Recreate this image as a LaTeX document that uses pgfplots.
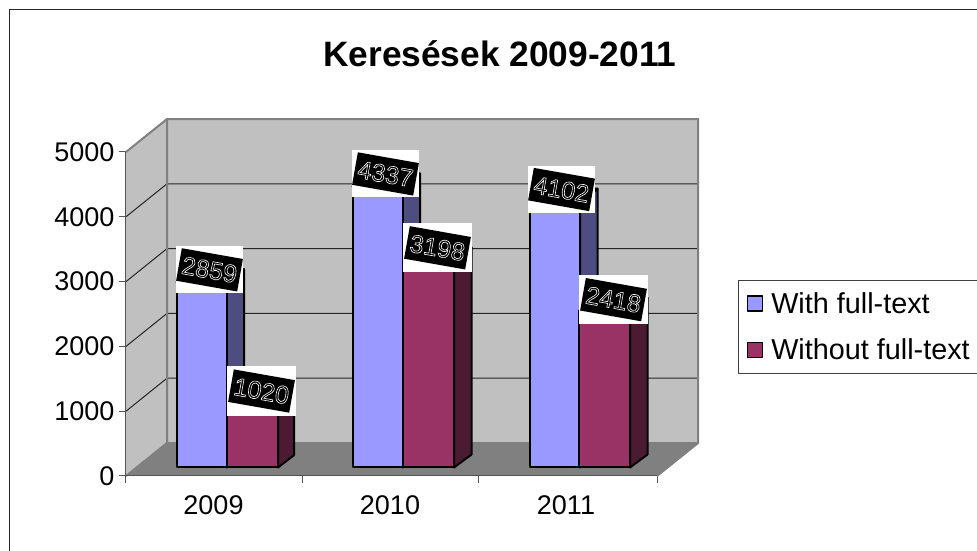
\documentclass[border=0pt]{standalone}
\usepackage{fontspec}
\setmainfont{Liberation Sans}
\usepackage{pgfplots}
\pgfplotsset{compat=1.18}
\definecolor{wall}{HTML}{C0C0C0}
\definecolor{floorc}{HTML}{808080}
\definecolor{edgec}{HTML}{808080}
\definecolor{axisc}{HTML}{555555}
\definecolor{blue1}{HTML}{9999FF}
\definecolor{blue2}{HTML}{4D4D80}
\definecolor{blue3}{HTML}{7373BF}
\definecolor{red1}{HTML}{993366}
\definecolor{red2}{HTML}{4D1A33}
\definecolor{red3}{HTML}{73264D}
\newcommand{\outl}[1]{\special{pdf:code q 1 Tr 0.6 w 1 1 1 RG}#1\special{pdf:code Q}}
\newcommand{\barlabel}[5]{% x, value, width, height, text
  \node[fill=white,inner sep=0pt,minimum width=#3pt,minimum height=#4pt,anchor=center] at (axis cs:#1,#2) {};
  \node[fill=black,inner sep=0pt,rotate=-10,minimum width=62pt,minimum height=33pt,text=white,anchor=center,font=\fontsize{25}{25}\selectfont] at (axis cs:#1,#2) {\textcolor{white}{#5}};
}
\begin{document}
\begin{tikzpicture}
\useasboundingbox (0,0) rectangle (977pt,551pt);
\draw[line width=1.6pt,color=black!85] (9.5pt,0pt) -- (9.5pt,541.5pt) -- (977pt,541.5pt);
% walls, floor, axes
\begin{axis}[
  at={(126pt,75pt)},anchor=south west,scale only axis,width=531pt,height=324pt,
  xmin=126,xmax=657,ymin=0,ymax=5000,clip=false,
  axis lines*=left,axis line style={-,color=axisc,line width=1pt},
  tick align=outside,
  xtick={213.5,390,566},xticklabels={2009,2010,2011},
  minor xtick={126,302,478,657},
  major x tick style={draw=none},
  minor tick length=7pt,
  minor x tick style={color=axisc,line width=1pt},
  ytick={0,1000,2000,3000,4000,5000},
  y tick style={color=axisc,line width=1pt},
  major tick length=7pt,
  /pgf/number format/assume math mode=true,
  /pgf/number format/1000 sep={},
  ticklabel style={font=\fontsize{27}{27}\selectfont,text=black},
  xticklabel style={yshift=-9pt},
  yticklabel style={xshift=-1pt},
  title={Keresések 2009-2011},
  title style={at={(0.704,1.285)},anchor=center,font=\bfseries\fontsize{35.3}{35.3}\selectfont,inner sep=0pt},
]
\addplot[fill=wall,draw=none,forget plot] coordinates {(126,0)(126,5000)(167,5509)(167,509)} --cycle;
\addplot[fill=wall,draw=none,forget plot] coordinates {(167,509)(167,5509)(698,5509)(698,509)} --cycle;
\addplot[fill=floorc,draw=none,forget plot] coordinates {(126,0)(167,509)(698,509)(657,0)} --cycle;
\addplot[color=black!85,line width=1pt,forget plot] coordinates {(126,1000)(167,1509)(698,1509)};
\addplot[color=black!85,line width=1pt,forget plot] coordinates {(126,2000)(167,2509)(698,2509)};
\addplot[color=black!85,line width=1pt,forget plot] coordinates {(126,3000)(167,3509)(698,3509)};
\addplot[color=black!85,line width=1pt,forget plot] coordinates {(126,4000)(167,4509)(698,4509)};
\addplot[color=edgec,line width=2pt,forget plot] coordinates {(126,5000)(167,5509)(698,5509)(698,509)(657,0)};
\addplot[color=edgec,line width=2pt,forget plot] coordinates {(126,0)(167,509)(167,5509)};
\addplot[color=edgec,line width=2pt,forget plot] coordinates {(167,509)(698,509)};
\addplot[color=axisc,line width=1pt,forget plot] coordinates {(126,0)(126,5000)};
\addplot[color=axisc,line width=1pt,forget plot] coordinates {(126,0)(657,0)};
\end{axis}
% bars: values on the same 0-5000 scale, base lifted by the floor depth
\begin{axis}[
  at={(126pt,83.5pt)},anchor=south west,scale only axis,width=531pt,height=324pt,
  xmin=126,xmax=657,ymin=0,ymax=5000,clip=false,hide axis,
  legend style={at={(axis cs:738,2893)},anchor=north west,draw=black!75,line width=1pt,
    font=\fontsize{28.8}{28.8}\selectfont,cells={anchor=west},inner xsep=8pt,inner ysep=10pt,
    row sep=20pt,legend columns=1},
  legend image code/.code={\path[draw=none,fill=none] (0pt,0pt) -- (22pt,0pt);\draw[#1,line width=1.6pt,draw=black] (0pt,-7.5pt) rectangle (15pt,7.5pt);},
  every axis plot/.append style={line join=round},
]
% 2009
\addplot[fill=blue2,draw=black,line width=2pt,forget plot] coordinates {(226.5,0)(244,200)(244,3059)(226.5,2859)} --cycle;
\addplot[fill=blue3,draw=black,line width=2pt,forget plot] coordinates {(176.5,2859)(194,3059)(244,3059)(226.5,2859)} --cycle;
% 2010
\addplot[fill=blue2,draw=black,line width=2pt,forget plot] coordinates {(402.5,0)(420,200)(420,4537)(402.5,4337)} --cycle;
\addplot[fill=blue3,draw=black,line width=2pt,forget plot] coordinates {(352.5,4337)(370,4537)(420,4537)(402.5,4337)} --cycle;
% 2011
\addplot[fill=blue2,draw=black,line width=2pt,forget plot] coordinates {(580,0)(597.5,200)(597.5,4302)(580,4102)} --cycle;
\addplot[fill=blue3,draw=black,line width=2pt,forget plot] coordinates {(530,4102)(547.5,4302)(597.5,4302)(580,4102)} --cycle;
\addplot[ybar,bar width=50pt,bar shift=0pt,fill=blue1,draw=black,line width=2pt] table[x=x,y=y] {
x y
201.5 2859
377.5 4337
555 4102
};
\addlegendentry{With full-text}
% red sides
\addplot[fill=red2,draw=black,line width=2pt,forget plot] coordinates {(278,0)(294,190)(294,1210)(278,1020)} --cycle;
\addplot[fill=red3,draw=black,line width=2pt,forget plot] coordinates {(227,1020)(243,1210)(294,1210)(278,1020)} --cycle;
\addplot[fill=red2,draw=black,line width=2pt,forget plot] coordinates {(454,0)(471.5,200)(471.5,3398)(454,3198)} --cycle;
\addplot[fill=red3,draw=black,line width=2pt,forget plot] coordinates {(403,3198)(420.5,3398)(471.5,3398)(454,3198)} --cycle;
\addplot[fill=red2,draw=black,line width=2pt,forget plot] coordinates {(630,0)(647.5,200)(647.5,2618)(630,2418)} --cycle;
\addplot[fill=red3,draw=black,line width=2pt,forget plot] coordinates {(579,2418)(596.5,2618)(647.5,2618)(630,2418)} --cycle;
\addplot[ybar,bar width=51pt,bar shift=0pt,fill=red1,draw=black,line width=2pt] table[x=x,y=y] {
x y
252.5 1020
428.5 3198
604.5 2418
};
\addlegendentry{Without full-text}
\barlabel{209.5}{3050}{67}{47}{\outl{2859}}
\barlabel{261.5}{1180}{69}{50}{\outl{1020}}
\barlabel{385.5}{4530}{67}{47}{\outl{4337}}
\barlabel{437.5}{3390}{69}{49}{\outl{3198}}
\barlabel{561.5}{4290}{67}{47}{\outl{4102}}
\barlabel{613.5}{2590}{69}{49}{\outl{2418}}
\end{axis}
\end{tikzpicture}
\end{document}
